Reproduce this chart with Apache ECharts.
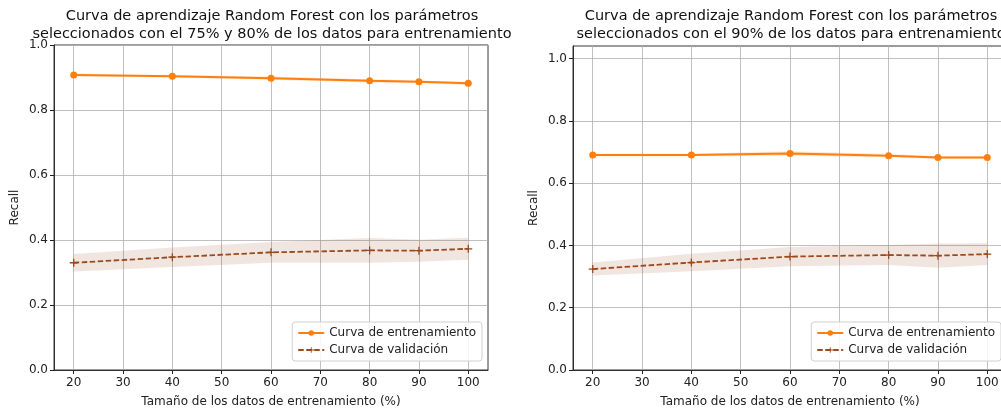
<!DOCTYPE html>
<html>
<head>
<meta charset="utf-8">
<script src="https://cdn.jsdelivr.net/npm/echarts@6/dist/echarts.min.js"></script>
<style>
  html, body { margin: 0; padding: 0; background: #fff; }
  #chart { width: 1001px; height: 408px; }
</style>
</head>
<body>
<div id="chart"></div>
<script>
// Training set sizes (% of data) and tick values
const sizes = [20, 40, 60, 80, 90, 100];
const xTicks = [20, 30, 40, 50, 60, 70, 80, 90, 100];
const yTicks = [0, 0.2, 0.4, 0.6, 0.8, 1.0];

// Left panel: 75% / 80% parameter selection
const trainMeanA = [0.908, 0.904, 0.898, 0.890, 0.887, 0.882];
const trainStdA  = [0.004, 0.004, 0.005, 0.005, 0.004, 0.004];
const validMeanA = [0.330, 0.347, 0.362, 0.368, 0.367, 0.373];
const validStdA  = [0.027, 0.030, 0.032, 0.038, 0.034, 0.034];

// Right panel: 90% parameter selection
const trainMeanB = [0.690, 0.690, 0.695, 0.688, 0.682, 0.682];
const trainStdB  = [0.004, 0.004, 0.007, 0.005, 0.004, 0.004];
const validMeanB = [0.324, 0.345, 0.364, 0.369, 0.367, 0.372];
const validStdB  = [0.021, 0.028, 0.031, 0.032, 0.039, 0.035];

const titles = [
  'Curva de aprendizaje Random Forest con los parámetros\nseleccionados con el 75% y 80% de los datos para entrenamiento',
  'Curva de aprendizaje Random Forest con los parámetros\nseleccionados con el 90% de los datos para entrenamiento'
];
const xName = 'Tamaño de los datos de entrenamiento (%)';
const yName = 'Recall';
const trainName = 'Curva de entrenamiento';
const validName = 'Curva de validación';

const FONT = 'DejaVu Sans';
const ORANGE = '#ff7f0e';
const BROWN = '#9a4a1c';
const PLUS = 'path://M-0.16,-1H0.16V-0.16H1V0.16H0.16V1H-0.16V0.16H-1V-0.16H-0.16Z';

const panels = [
  { left: 54, top: 45, height: 325, yMax: 1.0, legendRight: 519,
    train: trainMeanA, tStd: trainStdA, valid: validMeanA, vStd: validStdA },
  { left: 573, top: 46, height: 324, yMax: 1.04, legendRight: 0,
    train: trainMeanB, tStd: trainStdB, valid: validMeanB, vStd: validStdB }
];
const PLOT_W = 434;

const grid = [], xAxis = [], yAxis = [], series = [], title = [], legend = [];

// Filled ±std band drawn as one polygon through the axis scales
function bandSeries(i, mean, std, color, opacity) {
  return {
    type: 'custom', xAxisIndex: i, yAxisIndex: i, silent: true, z: 1,
    data: [[sizes[0], mean[0]]],
    renderItem: (params, api) => {
      const upper = sizes.map((x, k) => api.coord([x, mean[k] + std[k]]));
      const lower = sizes.map((x, k) => api.coord([x, mean[k] - std[k]])).reverse();
      return {
        type: 'polygon',
        shape: { points: upper.concat(lower) },
        style: { fill: color, opacity: opacity }
      };
    }
  };
}

panels.forEach((p, i) => {
  grid.push({
    left: p.left, top: p.top, width: PLOT_W, height: p.height,
    outerBoundsMode: 'none', containLabel: false,
    show: true, borderColor: '#222', borderWidth: 0.9, backgroundColor: '#fff'
  });
  title.push({
    text: titles[i],
    left: p.left + PLOT_W / 2 - 4, top: 2, textAlign: 'center',
    textStyle: { fontFamily: FONT, fontSize: 14.5, fontWeight: 'normal', color: '#111', lineHeight: 18 }
  });
  xAxis.push({
    type: 'value', gridIndex: i, min: 16, max: 104,
    name: xName, nameLocation: 'middle', nameGap: 26,
    nameTextStyle: { fontFamily: FONT, fontSize: 12, color: '#222' },
    axisLine: { show: true, lineStyle: { color: '#222', width: 0.9 } },
    axisTick: { show: true, length: 4, customValues: xTicks, lineStyle: { color: '#222' } },
    axisLabel: { customValues: xTicks, fontFamily: FONT, fontSize: 12, color: '#222', margin: 7 },
    splitLine: { show: true, lineStyle: { color: '#b0b0b0', width: 0.8 } }
  });
  yAxis.push({
    type: 'value', gridIndex: i, min: 0, max: p.yMax,
    name: yName, nameLocation: 'middle', nameGap: 33, nameRotate: 90,
    nameTextStyle: { fontFamily: FONT, fontSize: 12, color: '#222' },
    axisLine: { show: true, lineStyle: { color: '#222', width: 0.9 } },
    axisTick: { show: true, length: 4, customValues: yTicks, lineStyle: { color: '#222' } },
    axisLabel: { customValues: yTicks, fontFamily: FONT, fontSize: 12, color: '#222', margin: 6,
                 formatter: v => v.toFixed(1) },
    splitLine: { show: true, lineStyle: { color: '#b0b0b0', width: 0.8 } }
  });

  series.push(bandSeries(i, p.train, p.tStd, ORANGE, 0.2));
  series.push(bandSeries(i, p.valid, p.vStd, '#a0522d', 0.15));

  series.push({
    name: trainName, type: 'line', xAxisIndex: i, yAxisIndex: i, z: 3,
    symbol: 'circle', symbolSize: 7, showSymbol: true,
    lineStyle: { color: ORANGE, width: 2 }, itemStyle: { color: ORANGE },
    data: sizes.map((x, k) => [x, p.train[k]])
  });
  series.push({
    name: validName, type: 'line', xAxisIndex: i, yAxisIndex: i, z: 3,
    symbol: PLUS, symbolSize: 8, showSymbol: true,
    lineStyle: { color: BROWN, width: 1.8, type: [5.5, 2.5] }, itemStyle: { color: BROWN },
    data: sizes.map((x, k) => [x, p.valid[k]])
  });

  legend.push({
    data: [trainName, validName],
    orient: 'vertical', right: p.legendRight, top: 322,
    itemWidth: 26, itemHeight: 7, itemGap: 5,
    padding: [5, 6, 5, 5],
    backgroundColor: 'rgba(255,255,255,0.85)', borderColor: '#d0d0d0', borderWidth: 1, borderRadius: 3,
    textStyle: { fontFamily: FONT, fontSize: 12, color: '#222' },
    selectedMode: false
  });
});

const chart = echarts.init(document.getElementById('chart'), null, { renderer: 'canvas' });
chart.setOption({
  animation: false,
  backgroundColor: '#fff',
  title, grid, xAxis, yAxis, legend, series
});
</script>
</body>
</html>
